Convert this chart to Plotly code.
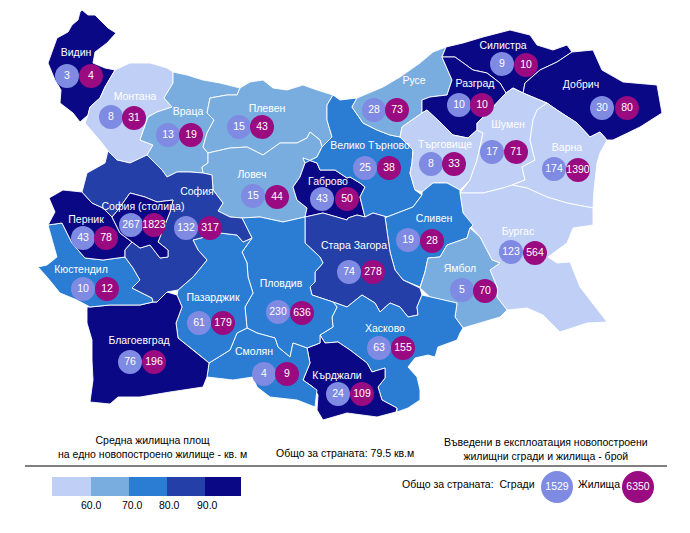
import plotly.graph_objects as go

# Region outlines (screen-like map units)
VIDIN = [(80,12),(78,20),(72,25),(68,32),(57,38),(53,50),(48,63),(55,80),(61,90),(60,103),(73,113),(80,122),(88,115),(90,107),(100,98),(105,87),(115,70),(105,68),(93,63),(95,52),(107,43),(116,33),(108,28),(95,15),(88,15),(82,10)]
MONTANA = [(115,70),(130,63),(150,63),(167,68),(173,72),(173,83),(164,98),(172,107),(157,112),(148,117),(140,140),(153,145),(147,155),(130,163),(117,160),(108,151),(102,143),(93,132),(85,123),(88,115),(90,107),(100,98),(105,87)]
VRATSA = [(173,72),(187,75),(203,80),(220,83),(240,88),(237,95),(227,95),(210,98),(207,113),(214,120),(207,133),(203,147),(208,153),(208,163),(202,167),(203,173),(190,172),(177,172),(167,177),(162,170),(155,163),(147,155),(153,145),(140,140),(148,117),(157,112),(172,107),(164,98),(173,83)]
PLEVEN = [(240,88),(250,82),(263,80),(273,88),(287,90),(303,85),(317,90),(333,95),(327,105),(327,120),(332,137),(322,147),(320,140),(310,132),(307,138),(297,143),(280,143),(263,155),(247,147),(230,148),(208,153),(203,147),(207,133),(214,120),(207,113),(210,98),(227,95),(237,95)]
LOVECH = [(208,153),(230,148),(247,147),(263,155),(280,143),(297,143),(307,138),(310,132),(320,140),(322,147),(317,157),(305,163),(300,177),(293,187),(297,200),(307,208),(305,217),(283,222),(260,217),(242,218),(230,217),(218,211),(223,203),(213,190),(212,175),(203,173),(202,167),(208,163)]
GABROVO = [(303,158),(317,163),(320,170),(335,170),(347,178),(350,177),(360,183),(365,187),(360,197),(365,217),(357,215),(348,218),(347,220),(323,213),(305,217),(307,208),(297,200),(293,187),(300,177),(305,163)]
TARNOVO = [(333,95),(340,100),(357,98),(352,107),(363,123),(377,130),(390,135),(400,137),(405,142),(413,150),(412,163),(410,173),(415,190),(422,195),(413,207),(400,212),(387,217),(373,213),(365,217),(360,197),(365,187),(360,183),(350,177),(347,178),(335,170),(320,170),(317,163),(303,158),(305,163),(317,157),(322,147),(332,137),(327,120),(327,105)]
RUSE = [(357,98),(383,87),(400,77),(420,63),(433,52),(446,47),(442,57),(452,80),(447,95),(430,97),(422,100),(422,113),(402,127),(400,137),(390,135),(377,130),(363,123),(352,107)]
RAZGRAD = [(442,57),(455,57),(473,70),(487,73),(500,83),(506,93),(497,103),(487,113),(477,123),(477,130),(468,138),(453,135),(440,122),(427,110),(422,113),(422,100),(430,97),(447,95),(452,80)]
SILISTRA = [(446,47),(463,43),(483,37),(510,30),(530,35),(537,45),(553,50),(567,45),(572,52),(557,62),(540,70),(525,83),(523,93),(513,88),(506,93),(500,83),(487,73),(473,70),(455,57),(442,57)]
DOBRICH = [(572,52),(593,50),(602,70),(623,82),(657,85),(660,103),(662,113),(640,127),(613,140),(607,140),(600,132),(590,137),(577,123),(557,110),(547,103),(535,98),(523,93),(525,83),(540,70),(557,62)]
SHUMEN = [(506,93),(513,88),(523,93),(535,98),(547,103),(537,110),(533,120),(530,140),(535,160),(522,167),(525,180),(512,185),(503,188),(483,193),(460,193),(470,180),(477,160),(480,147),(483,133),(477,130),(477,123),(487,113),(497,103)]
TARGOVISHTE = [(400,137),(402,127),(422,113),(427,110),(440,122),(453,135),(468,138),(477,130),(483,133),(480,147),(477,160),(470,180),(460,190),(447,183),(433,183),(422,192),(415,190),(410,173),(412,163),(413,150),(405,142)]
VARNA = [(547,103),(557,110),(577,123),(590,137),(600,132),(607,140),(600,153),(597,163),(594,190),(593,208),(567,203),(547,197),(527,188),(512,185),(525,180),(522,167),(535,160),(530,140),(533,120),(537,110)]
BURGAS = [(460,193),(483,193),(503,188),(512,185),(527,188),(547,197),(567,203),(593,208),(593,225),(573,228),(567,243),(548,257),(557,263),(570,262),(580,287),(607,322),(587,323),(560,332),(543,315),(527,308),(507,310),(497,297),(497,287),(490,270),(500,263),(492,260),(480,237),(472,228),(463,213)]
SLIVEN = [(387,217),(400,212),(413,207),(422,195),(422,192),(433,183),(447,183),(460,190),(460,193),(463,213),(473,225),(470,228),(467,238),(447,245),(440,257),(428,258),(425,272),(420,287),(403,280),(395,270),(390,252),(385,217)]
YAMBOL = [(470,228),(480,237),(492,260),(500,263),(490,270),(497,287),(497,297),(507,310),(500,317),(480,323),(463,328),(455,317),(457,303),(443,300),(430,297),(420,288),(425,272),(428,258),(440,257),(447,245),(467,238)]
ZAGORA = [(305,217),(323,213),(347,220),(348,218),(357,215),(365,217),(373,213),(387,217),(385,217),(390,252),(395,270),(403,280),(420,288),(422,295),(417,307),(418,315),(408,317),(400,307),(390,303),(380,312),(375,303),(362,295),(347,307),(333,302),(312,295),(310,287),(315,282),(315,272),(323,263),(320,257),(305,243)]
HASKOVO = [(333,302),(347,307),(362,295),(375,303),(380,312),(390,303),(400,307),(408,317),(418,315),(417,307),(422,295),(430,297),(443,300),(457,303),(455,317),(463,328),(460,333),(457,340),(438,347),(435,357),(428,355),(415,358),(408,367),(417,377),(420,390),(420,400),(408,408),(397,412),(397,408),(382,400),(378,387),(385,378),(385,368),(372,372),(367,363),(350,350),(338,342),(325,343),(320,335),(333,327),(332,317),(337,307)]
KARDZHALI = [(320,335),(325,343),(338,342),(350,350),(367,363),(372,372),(385,368),(385,378),(378,387),(382,400),(397,408),(396,412),(377,417),(347,413),(323,420),(317,410),(318,395),(313,387),(303,380),(310,363),(307,348),(320,343)]
PLOVDIV = [(242,218),(260,217),(283,222),(305,217),(305,243),(320,257),(323,263),(315,272),(315,282),(310,287),(312,295),(333,302),(337,307),(332,317),(333,327),(320,335),(320,343),(307,348),(293,343),(290,357),(278,347),(275,338),(257,333),(247,328),(245,307),(253,293),(248,277),(247,263),(242,252),(252,238)]
SMOLYAN = [(247,328),(257,333),(275,338),(278,347),(290,357),(293,343),(307,348),(310,363),(303,380),(317,390),(315,407),(297,400),(270,397),(257,387),(253,377),(233,380),(207,377),(209,363),(230,350),(237,333)]
PAZARDZHIK = [(178,290),(193,277),(207,260),(198,250),(193,240),(220,233),(237,235),(243,242),(252,238),(242,252),(247,263),(248,277),(253,293),(245,307),(247,328),(237,333),(230,350),(209,363),(197,353),(178,338),(176,323),(182,307),(177,295)]
BLAGOEVGRAD = [(87,307),(90,307),(110,305),(140,305),(153,302),(157,302),(167,292),(177,295),(182,307),(176,323),(178,338),(197,353),(209,363),(207,377),(203,387),(170,392),(140,397),(118,397),(110,404),(90,402),(93,380),(92,360),(92,340),(87,323)]
KYUSTENDIL = [(48,225),(62,223),(72,243),(85,258),(103,260),(125,257),(133,268),(140,280),(132,288),(152,298),(153,302),(140,305),(110,305),(90,307),(77,300),(60,293),(47,277),(38,267),(47,265),(57,257),(53,243)]
PERNIK = [(49,198),(63,190),(82,192),(92,203),(103,208),(112,217),(120,233),(132,242),(125,250),(125,257),(103,260),(85,258),(72,243),(62,223),(48,225),(55,212)]
SOFIA_CITY = [(112,217),(118,210),(130,193),(145,197),(157,202),(173,200),(170,212),(165,225),(158,242),(168,250),(168,257),(160,258),(150,245),(140,248),(132,242),(120,233)]
SOFIA = [(108,151),(117,160),(130,163),(147,155),(155,163),(162,170),(167,177),(177,172),(190,172),(203,173),(212,175),(213,190),(223,203),(218,211),(230,217),(242,218),(252,238),(243,242),(237,235),(220,233),(193,240),(198,250),(207,260),(193,277),(178,290),(167,292),(157,302),(153,302),(152,298),(132,288),(140,280),(133,268),(125,257),(125,250),(132,242),(140,248),(150,245),(160,258),(168,257),(168,250),(158,242),(165,225),(170,212),(173,200),(157,202),(145,197),(130,193),(118,210),(112,217),(103,208),(92,203),(82,192),(87,173),(105,163)]

names = ["Видин","Монтана","Враца","Плевен","Ловеч","Габрово","Велико Търново","Русе","Силистра","Разград","Добрич","Търговище","Шумен","Варна","Бургас","Сливен","Ямбол","Стара Загора","Хасково","Кърджали","Пловдив","Смолян","Пазарджик","Благоевград","Кюстендил","Перник","София (столица)","София"]
outlines = [VIDIN,MONTANA,VRATSA,PLEVEN,LOVECH,GABROVO,TARNOVO,RUSE,SILISTRA,RAZGRAD,DOBRICH,TARGOVISHTE,SHUMEN,VARNA,BURGAS,SLIVEN,YAMBOL,ZAGORA,HASKOVO,KARDZHALI,PLOVDIV,SMOLYAN,PAZARDZHIK,BLAGOEVGRAD,KYUSTENDIL,PERNIK,SOFIA,SOFIA_CITY]
outline_names = names[:26] + ["София","София (столица)"]
area_class = [4,0,1,1,1,4,2,1,4,4,4,0,0,0,0,2,1,3,2,4,2,2,2,4,2,4,3,4]

class_colors = ["#bfcff6","#7aaddf","#2a7dd3","#243fa8","#0a0884"]
class_ticks = ["60.0","70.0","80.0","90.0"]

buildings = [3,8,13,15,15,43,25,28,9,10,30,8,17,174,123,19,5,74,63,24,230,4,61,76,10,43,267,132]
dwellings = [4,31,19,43,44,50,38,73,10,10,80,33,71,1390,564,28,70,278,155,109,636,9,179,196,12,78,1823,317]
bld_x = [67,111,168,239,253,322,365,374,502,459,602,431,492,554,511,408,462,349,379,338,278,264,199,130,83,83,131,186]
bld_y = [76,117,135,127,196,199,168,110,64,105,108,164,152,169,252,240,290,272,348,394,312,374,323,362,289,238,225,228]
dwl_x = [91,134,191,262,277,347,389,397,526,482,627,454,516,578,535,432,485,373,403,362,302,287,223,154,107,106,154,210]
dwl_y = [76,118,135,127,197,199,168,110,65,105,108,164,152,170,253,241,291,272,348,394,313,374,323,362,289,238,225,228]
label_x = [76,135,188,267,252,328,370,414,503,475,581,445,508,567,518,434,460,354,385,337,281,254,213,139,81,86,143,197]
label_y = [53,97,112,109,175,182,146,81,46,84,85,145,125,148,232,219,269,246,329,376,284,352,298,341,270,220,207,192]

FONT = "Liberation Sans, Arial, sans-serif"
BLUE = "#7f8ae2"
PURPLE = "#9a0a80"

fig = go.Figure()
for name, poly, cls in zip(outline_names, outlines, area_class):
    xs = [p[0] for p in poly] + [poly[0][0]]
    ys = [p[1] for p in poly] + [poly[0][1]]
    fig.add_trace(go.Scatter(x=xs, y=ys, mode="lines", fill="toself", fillcolor=class_colors[cls],
                             line=dict(color="white", width=0.9), name=name, hoverinfo="name", showlegend=False))

fig.add_trace(go.Scatter(x=label_x, y=label_y, mode="text", text=names,
                         textfont=dict(family=FONT, size=10.5, color="#ffffff"), hoverinfo="skip", showlegend=False))
fig.add_trace(go.Scatter(x=bld_x, y=bld_y, mode="markers+text", text=[str(v) for v in buildings],
                         marker=dict(size=24, color=BLUE, line=dict(width=0)),
                         textfont=dict(family=FONT, size=10.5, color="white"), showlegend=False, name="Сгради"))
fig.add_trace(go.Scatter(x=dwl_x, y=dwl_y, mode="markers+text", text=[str(v) for v in dwellings],
                         marker=dict(size=24, color=PURPLE, line=dict(width=0)),
                         textfont=dict(family=FONT, size=10.5, color="white"), showlegend=False, name="Жилища"))

# Legend totals
total_values = ["1529","6350"]
fig.add_trace(go.Scatter(x=[557,638], y=[487,487], mode="markers+text", text=total_values,
                         marker=dict(size=32, color=[BLUE,PURPLE], line=dict(width=0)),
                         textfont=dict(family=FONT, size=10.5, color="white"), showlegend=False))

# Colour legend
edges = [52,91,129,167,205,241]
tick_x = [91,132,169,207]
shapes = [dict(type="rect", x0=edges[i], x1=edges[i+1], y0=477, y1=496, fillcolor=class_colors[i],
               line=dict(width=0), xref="x", yref="y") for i in range(5)]
shapes.append(dict(type="line", x0=25, x1=667, y0=466, y1=466, line=dict(color="black", width=1), xref="x", yref="y"))

notes = [
    ("Средна жилищна площ<br>на едно новопостроено жилище - кв. м", 152, 447, "center"),
    ("Общо за страната: 79.5 кв.м", 345, 453, "center"),
    ("Въведени в експлоатация новопостроени<br>жилищни сгради и жилища - брой", 546, 449, "center"),
    ("Общо за страната:  Сгради", 468, 484, "center"),
    ("Жилища", 599, 484, "center"),
]
annotations = [dict(x=x, y=y, text=t, showarrow=False, xref="x", yref="y", align=a,
                    font=dict(family=FONT, size=10.5, color="black")) for t, x, y, a in notes]
annotations += [dict(x=x, y=505, text=t, showarrow=False, xref="x", yref="y",
                     font=dict(family=FONT, size=10.5, color="black")) for x, t in zip(tick_x, class_ticks)]

fig.update_layout(width=690, height=533, margin=dict(l=0, r=0, t=0, b=0), paper_bgcolor="white", plot_bgcolor="white",
                  xaxis=dict(range=[0,690], visible=False, fixedrange=True),
                  yaxis=dict(range=[533,0], visible=False, fixedrange=True),
                  shapes=shapes, annotations=annotations, showlegend=False)
fig.write_html("out.html", post_script="document.body.style.margin='0';document.documentElement.style.overflow='hidden';", config={"displayModeBar": False})
